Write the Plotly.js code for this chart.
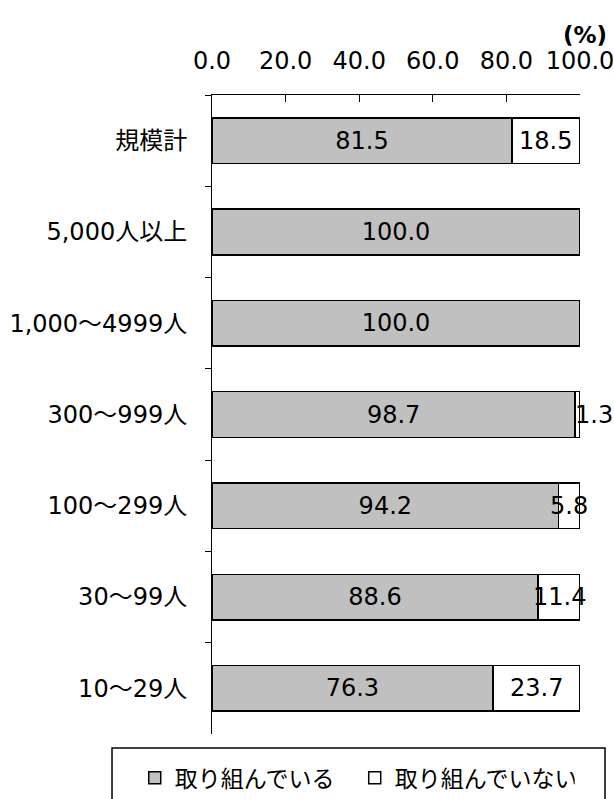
<!DOCTYPE html>
<html><head><meta charset="utf-8">
<script src="https://cdn.plot.ly/plotly-3.0.1.min.js"></script>
<style>html,body{margin:0;padding:0;background:#fff}</style>
</head><body><div id="chart" style="width:614px;height:799px"></div>
<script>
const categories = ["規模計","5,000人以上","1,000～4999人","300～999人","100～299人","30～99人","10～29人"];
const doing = [81.5,100.0,100.0,98.7,94.2,88.6,76.3];
const notDoing = [18.5,0.0,0.0,1.3,5.8,11.4,23.7];
const seriesNames = ["取り組んでいる","取り組んでいない"];
const xTicks = [0,20,40,60,80,100];

const FONT = "DejaVu Sans, Verdana, 'Noto Sans CJK JP', sans-serif";
const fs = 24;

const traces = [
  {type:'bar', orientation:'h', name:seriesNames[0], y:categories, x:doing,
   marker:{color:'#C0C0C0', line:{color:'#000', width:1.5}},
   text:doing.map(v=>v.toFixed(1)), textposition:'inside', insidetextanchor:'middle',
   textfont:{family:FONT,size:fs,color:'#000'}, cliponaxis:false, hoverinfo:'skip'},
  {type:'bar', orientation:'h', name:seriesNames[1], y:categories, x:notDoing,
   marker:{color:'#FFFFFF', line:{color:'#000', width:1.5}},
   textposition:'none', hoverinfo:'skip'}
];

const annotations = [];
categories.forEach((c,i)=>{
  if(notDoing[i]>0){
    const tiny = notDoing[i] < 3;
    annotations.push({x:doing[i]+notDoing[i]/2, y:c, xref:'x', yref:'y', text:notDoing[i].toFixed(1),
      xanchor: tiny ? 'left' : 'center', xshift: tiny ? -4 : 0, borderpad:0,
      showarrow:false, font:{family:FONT,size:fs,color:'#000'}});
  }
});
annotations.push({x:1.0136, y:1.094, xref:'paper', yref:'paper', xanchor:'center', yanchor:'middle',
  text:'<b>(%)</b>', showarrow:false, font:{family:FONT,size:23,color:'#000'}});

const layout = {
  width:614, height:799,
  margin:{l:212, r:34, t:95, b:65, autoexpand:false},
  paper_bgcolor:'#fff', plot_bgcolor:'#fff',
  barmode:'stack', bargap:0.5, showlegend:true,
  font:{family:FONT, size:fs, color:'#000'},
  xaxis:{side:'top', range:[0,100], tickvals:xTicks, ticktext:xTicks.map(v=>v.toFixed(1)),
    ticks:'inside', ticklen:7, tickcolor:'#000', showline:true, linecolor:'#000', linewidth:1,
    showgrid:false, zeroline:false, tickfont:{family:FONT,size:fs,color:'#000'},
    ticklabelstandoff:15, ticklabeloverflow:'allow', fixedrange:true},
  yaxis:{autorange:'reversed', type:'category', showline:true, linecolor:'#000', linewidth:1,
    ticks:'outside', tickson:'boundaries', ticklen:6, tickcolor:'#000', showgrid:false,
    tickfont:{family:FONT,size:fs,color:'#000'}, ticklabelstandoff:19, fixedrange:true},
  legend:{orientation:'h', traceorder:'normal', x:-0.21, xanchor:'left', y:-0.035, yanchor:'top',
    font:{family:FONT,size:23,color:'#000'}, bgcolor:'rgba(0,0,0,0)', borderwidth:0,
    itemwidth:30, entrywidth:175},
  shapes:[{type:'rect', xref:'paper', yref:'paper', x0:-0.2717, x1:1.068, y0:-0.0219, y1:-0.11,
    line:{color:'#000', width:1.5}, fillcolor:'rgba(0,0,0,0)'}],
  annotations:annotations
};
Plotly.newPlot('chart', traces, layout, {displayModeBar:false, staticPlot:true});
</script></body></html>
